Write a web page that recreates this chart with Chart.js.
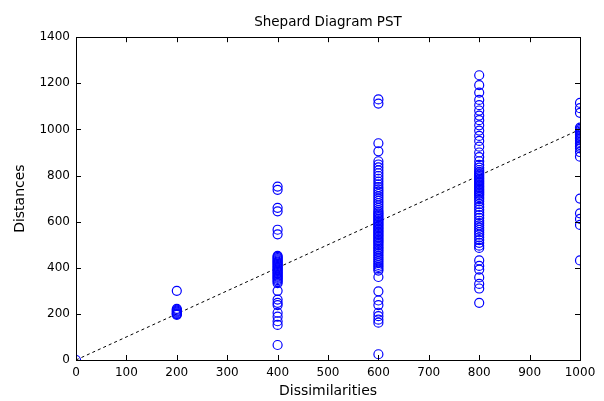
<!DOCTYPE html>
<html>
<head>
<meta charset="utf-8">
<script src="https://cdn.jsdelivr.net/npm/chart.js@4"></script>
<style>
  html, body { margin: 0; padding: 0; background: #fff; }
  #wrap { width: 604px; height: 401px; }
</style>
</head>
<body>
<div id="wrap"><canvas id="myChart" width="604" height="401"></canvas></div>
<script>
// Dissimilarity levels and distances
const dissimilarityLevels = [0, 200, 400, 600, 800, 1000];
const dist0 = [0];
const dist200 = [300, 222, 218, 214, 210, 206, 202, 199, 196];
const dist400 = [752, 738, 660, 645, 565, 545, 452, 447, 442, 437, 432, 427, 422, 417, 412, 407, 402, 397, 392, 387, 382, 377, 372, 367, 362, 357, 352, 346, 340, 333, 300, 262, 248, 238, 205, 188, 168, 152, 65];
const dist600 = [1130, 1112, 940, 905, 862, 848, 835, 822, 810, 798, 786, 774, 762, 750, 740, 730, 720, 710, 700, 690, 680, 670, 660, 650, 642, 636, 630, 624, 618, 612, 606, 600, 594, 588, 582, 576, 570, 564, 558, 552, 546, 540, 534, 528, 522, 516, 510, 503, 496, 489, 482, 475, 468, 460, 452, 444, 436, 428, 420, 412, 404, 396, 388, 360, 298, 258, 238, 205, 190, 175, 162, 25];
const dist800 = [1235, 1192, 1160, 1128, 1105, 1082, 1060, 1040, 1018, 995, 972, 950, 925, 900, 880, 862, 846, 834, 824, 816, 810, 804, 798, 792, 786, 780, 774, 768, 762, 756, 750, 744, 738, 732, 726, 720, 714, 706, 698, 688, 676, 664, 652, 640, 628, 616, 604, 594, 584, 574, 564, 554, 544, 532, 520, 508, 496, 486, 432, 408, 392, 358, 330, 310, 248];
const dist1000 = [1115, 1092, 1072, 1008, 1002, 996, 990, 984, 978, 972, 966, 960, 953, 946, 939, 932, 925, 918, 902, 882, 700, 636, 612, 586, 432];
const refLine = [0, 1000];

const distanceGroups = [dist0, dist200, dist400, dist600, dist800, dist1000];

// Build scatter points from the groups
const points = [];
distanceGroups.forEach((group, i) => {
  group.forEach(d => points.push({ x: dissimilarityLevels[i], y: d }));
});

const tickFont = { family: 'DejaVu Sans, sans-serif', size: 12 };
const labelFont = { family: 'DejaVu Sans, sans-serif', size: 14 };

// Draws the axes box and inward tick marks on all four sides (MATLAB style)
const boxTicks = {
  id: 'boxTicks',
  afterDraw(chart) {
    const { ctx, chartArea: a, scales } = chart;
    const len = 5;
    ctx.save();
    ctx.strokeStyle = '#000';
    ctx.lineWidth = 1;
    ctx.strokeRect(Math.round(a.left) + 0.5, Math.round(a.top) + 0.5,
      Math.round(a.right - a.left), Math.round(a.bottom - a.top));
    ctx.beginPath();
    scales.x.ticks.forEach(t => {
      const px = Math.round(scales.x.getPixelForValue(t.value)) + 0.5;
      ctx.moveTo(px, a.bottom); ctx.lineTo(px, a.bottom - len);
      ctx.moveTo(px, a.top); ctx.lineTo(px, a.top + len);
    });
    scales.y.ticks.forEach(t => {
      const py = Math.round(scales.y.getPixelForValue(t.value)) + 0.5;
      ctx.moveTo(a.left, py); ctx.lineTo(a.left + len, py);
      ctx.moveTo(a.right, py); ctx.lineTo(a.right - len, py);
    });
    ctx.stroke();
    ctx.restore();
  }
};

new Chart(document.getElementById('myChart'), {
  type: 'scatter',
  data: {
    datasets: [{
      label: 'Distances',
      data: points,
      showLine: false,
      pointStyle: 'circle',
      pointRadius: 4.5,
      pointBorderWidth: 1.2,
      pointBorderColor: '#0000ff',
      pointBackgroundColor: 'rgba(0,0,0,0)',
      order: 1
    }, {
      type: 'line',
      label: 'Fit',
      data: refLine.map(v => ({ x: v, y: v })),
      borderColor: '#000',
      borderWidth: 1,
      borderDash: [3, 3],
      pointRadius: 0,
      fill: false,
      order: 2
    }]
  },
  options: {
    responsive: false,
    animation: false,
    layout: { padding: { left: 0, right: 24, top: 0, bottom: 0 } },
    plugins: {
      legend: { display: false },
      tooltip: { enabled: false },
      title: {
        display: true,
        fullSize: false,
        text: 'Shepard Diagram PST',
        color: '#000',
        font: { ...labelFont, size: 13.5, weight: 'normal' },
        padding: { top: 14, bottom: 7 }
      }
    },
    scales: {
      x: {
        type: 'linear',
        min: 0, max: 1000,
        ticks: { stepSize: 100, color: '#000', font: tickFont, padding: 6, maxRotation: 0, callback: v => String(v) },
        grid: { display: false, drawTicks: false },
        border: { display: false },
        title: { display: true, text: 'Dissimilarities', color: '#000', font: labelFont, padding: { top: 0, bottom: 1 } },
        afterFit(scale) { scale.height = 41; }
      },
      y: {
        min: 0, max: 1400,
        ticks: { stepSize: 200, color: '#000', font: tickFont, padding: 6, callback: v => String(v) },
        grid: { display: false, drawTicks: false },
        border: { display: false },
        title: { display: true, text: 'Distances', color: '#000', font: labelFont, padding: { top: 12, bottom: 0 } },
        afterFit(scale) { scale.width = 76; }
      }
    }
  },
  plugins: [boxTicks]
});
</script>
</body>
</html>
